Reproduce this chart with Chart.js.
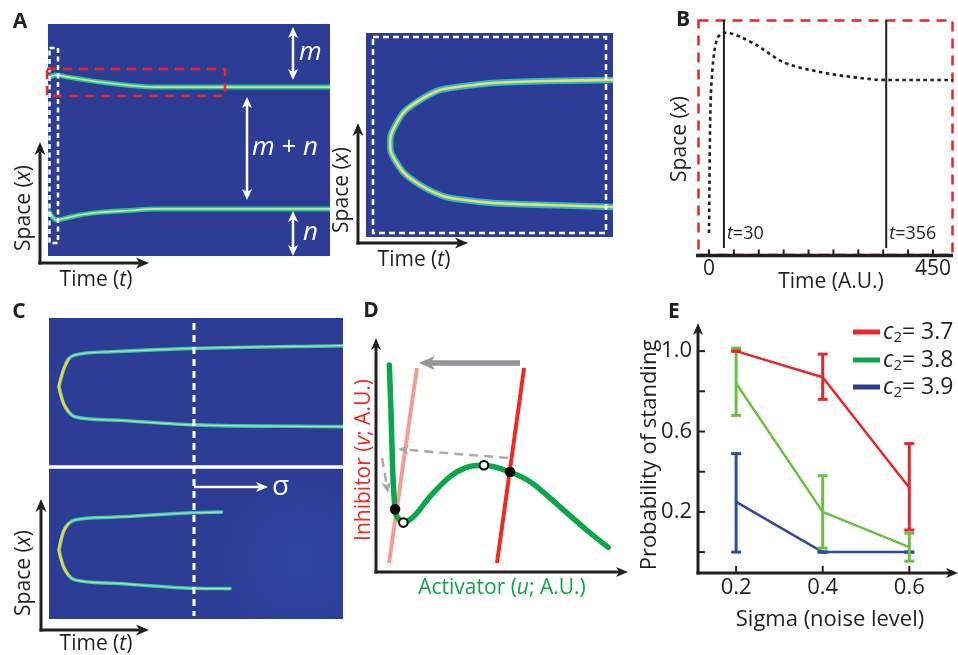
<!DOCTYPE html>
<html><head><meta charset="utf-8">
<script src="https://cdn.jsdelivr.net/npm/chart.js@4.4.1/dist/chart.umd.min.js"></script>
<style>
html,body{margin:0;padding:0;background:#fff;}
#wrap{position:relative;width:958px;height:655px;overflow:hidden;background:#fff;}
#wrap canvas{position:absolute;left:0;top:0;}
</style></head><body><div id="wrap"></div>
<script>
// ================= DATA =================
// Panel A (left): two stationary bands, time 0-100 (A.U.), space 0-100
const aTime   = [0.4, 2.8, 6.7, 11.3, 18.4, 29.1, 38, 100];
const aTop    = [77.2, 78.0, 77.2, 76.3, 75.0, 73.5, 72.8, 72.8];
const aBottom = [19.0, 15.6, 16.4, 17.7, 18.8, 19.6, 20.3, 20.3];
// Panel A (right): zoom on the splitting front
const a2Time  = [10.1, 15.0, 21.9, 30.0, 36.8, 51.4, 73.3, 100];
const a2Upper = [50.0, 60.8, 67.2, 72.1, 73.5, 75.5, 76.5, 77.0];
const a2Lower = [41.7, 31.9, 25.5, 20.6, 18.6, 16.7, 15.7, 14.7];
// Panel B: front position over time
const bTime  = [0, 2, 3.4, 5.4, 8.6, 15.5, 22, 32, 88, 149, 223, 289, 356, 490];
const bSpace = [9.4, 51.9, 66.0, 74.5, 83.0, 91.5, 93.6, 94.6, 90.2, 82.1, 77.9, 75.7, 74.5, 74.5];
const bMarks = [30, 356];
const bMarkLabels = ['30', '356'];
const bTicks = [0, 50, 100, 150, 200, 250, 300, 350, 400, 450];
const bTickLabels = ['0', '', '', '', '', '', '', '', '', '450'];
// Panel C: without noise (top) and with noise (bottom)
const cTime      = [3.4, 4.9, 6.6, 8.8, 21.3, 49.3, 100];
const cTopUpper  = [77.2, 82.7, 86.3, 87.7, 88.8, 89.9, 90.8];
const cTopLower  = [77.2, 71.7, 68.9, 67.2, 66.1, 64.5, 63.9];
const cBotUpperT = [3.4, 4.9, 6.6, 8.8, 21.3, 49.3, 58.7];
const cBotUpper  = [22.9, 29.0, 31.6, 32.9, 33.8, 35.3, 35.5];
const cBotLowerT = [3.4, 4.9, 6.6, 8.8, 21.3, 49.3, 61.6];
const cBotLower  = [22.9, 17.4, 14.6, 13.0, 11.9, 10.2, 10.1];
// Panel D: phase plane
const dU = [5.3, 5.9, 6.3, 6.7, 7.2, 7.6, 8.9, 10.9, 14.9, 21.5, 29.5, 36.1, 43.0, 53.4, 61.4, 73.3, 83.9, 92.5];
const dV = [89.2, 71.2, 56.9, 42.5, 32.5, 27.0, 23.1, 21.3, 23.8, 32.5, 41.1, 45.1, 46.0, 43.1, 38.9, 28.1, 18.1, 10.6];
const dPinkU = [5.2, 16.3],  dPinkV = [3.9, 87.9];
const dRedU  = [48.2, 59.0], dRedV  = [3.9, 87.9];
const dStableU = [7.6, 53.4],  dStableV = [27.0, 43.1];
const dUnstableU = [10.9, 43.0], dUnstableV = [21.3, 46.0];
const dJumpU = [57.4, 17.1],  dJumpV = [90.1, 90.1];
const dDash1U = [52.6, 8.8],  dDash1V = [49.1, 53.0];
const dDash2U = [2.4, 4.8],   dDash2V = [49.1, 34.1];
// Panel E: probability of standing vs noise
const sigma = [0.2, 0.4, 0.6];
const eSeriesNames = ['3.7', '3.8', '3.9'];
const redVal   = [1.0, 0.87, 0.32],   redLo   = [1.0, 0.76, 0.11],   redHi   = [1.0, 0.985, 0.54];
const greenVal = [0.84, 0.20, 0.025], greenLo = [0.68, 0.02, -0.045], greenHi = [1.015, 0.38, 0.094];
const blueVal  = [0.25, 0.0, 0.0],    blueLo  = [0.0, 0.0, 0.0],     blueHi  = [0.49, 0.0, 0.0];
const eYTicks = [0, 0.2, 0.4, 0.6, 0.8, 1.0];
const eYLabels = ['', '0.2', '', '0.6', '', '1.0'];
const eXTicks = [0.2, 0.4, 0.6];
const eXLabels = ['0.2', '0.4', '0.6'];

// ================= HELPERS =================
const W = 958, H = 655;
const FONT = '"Open Sans","Liberation Sans",Arial,sans-serif';
const INK = '#231F20', HEAT = '#2D3C95', RED = '#E8262A', WHITE = '#FFFFFF';
const fR = s => `${s}px ${FONT}`, fI = s => `italic ${s}px ${FONT}`, fB = s => `bold ${s}px ${FONT}`;
const pts = (xs, ys) => xs.map((x, i) => ({x, y: ys[i]}));

function rich(ctx, parts, x, y, o = {}) {
  ctx.save();
  ctx.translate(x, y);
  if (o.rot) ctx.rotate(o.rot);
  ctx.fillStyle = o.color || INK;
  ctx.textBaseline = 'middle';
  let total = 0;
  parts.forEach(p => { ctx.font = p[1]; total += ctx.measureText(p[0]).width; });
  let cx = o.align === 'left' ? 0 : o.align === 'right' ? -total : -total / 2;
  parts.forEach(p => { ctx.font = p[1]; ctx.fillText(p[0], cx, p[2] || 0); cx += ctx.measureText(p[0]).width; });
  ctx.restore();
}
function head(ctx, x, y, ang, L, Wd, color) {
  ctx.save(); ctx.translate(x, y); ctx.rotate(ang); ctx.fillStyle = color;
  ctx.beginPath(); ctx.moveTo(0, 0); ctx.lineTo(-L, -Wd / 2); ctx.lineTo(-L * 0.72, 0); ctx.lineTo(-L, Wd / 2);
  ctx.closePath(); ctx.fill(); ctx.restore();
}
function arrow(ctx, x1, y1, x2, y2, o) {
  const ang = Math.atan2(y2 - y1, x2 - x1), L = o.L || 12, Wd = o.W || 10;
  ctx.save(); ctx.strokeStyle = o.color; ctx.lineWidth = o.lw || 2.5; ctx.setLineDash(o.dash || []);
  ctx.lineCap = 'butt';
  let sx = x1, sy = y1;
  if (o.both) { sx = x1 + Math.cos(ang) * L * 0.72; sy = y1 + Math.sin(ang) * L * 0.72; }
  ctx.beginPath(); ctx.moveTo(sx, sy);
  ctx.lineTo(x2 - Math.cos(ang) * L * 0.72, y2 - Math.sin(ang) * L * 0.72); ctx.stroke(); ctx.restore();
  head(ctx, x2, y2, ang, L, Wd, o.color);
  if (o.both) head(ctx, x1, y1, ang + Math.PI, L, Wd, o.color);
}
function letter(ctx, s, x, y) { ctx.save(); ctx.font = fB(21); ctx.fillStyle = INK; ctx.textAlign = 'center'; ctx.textBaseline = 'middle'; ctx.fillText(s, x, y); ctx.restore(); }
const SPACE = s => [['Space (', fR(s)], ['x', fI(s)], [')', fR(s)]];
const TIME = s => [['Time (', fR(s)], ['t', fI(s)], [')', fR(s)]];

function mk(area, xr, yr, datasets, plug) {
  const c = document.createElement('canvas');
  c.width = W; c.height = H;
  document.getElementById('wrap').appendChild(c);
  return new Chart(c, {
    type: 'line', data: {datasets},
    options: {
      responsive: false, animation: false, devicePixelRatio: 1, events: [],
      layout: {padding: {left: area[0], top: area[1], right: W - area[2], bottom: H - area[3]}},
      scales: {x: {type: 'linear', display: false, min: xr[0], max: xr[1]},
               y: {type: 'linear', display: false, min: yr[0], max: yr[1]}},
      plugins: {legend: {display: false}, tooltip: {enabled: false}},
      elements: {point: {radius: 0}, line: {borderCapStyle: 'round', borderJoinStyle: 'round'}}
    },
    plugins: [plug]
  });
}
function ln(data, color, w, extra) {
  return Object.assign({data, borderColor: color, borderWidth: w, pointRadius: 0, fill: false,
    tension: 0.4, cubicInterpolationMode: 'monotone'}, extra || {});
}
const straight = {tension: 0, cubicInterpolationMode: 'default', borderCapStyle: 'butt'};
const smooth = {tension: 0.22, cubicInterpolationMode: 'default'};

// ================= PANEL A (left) =================
mk([48, 24, 330, 256], [0, 100], [0, 100], [
  ln(pts(aTime, aTop), '#CFEA6E', 1.6), ln(pts(aTime, aBottom), '#CFEA6E', 1.6),
  ln(pts(aTime, aTop), '#27BDB3', 5), ln(pts(aTime, aBottom), '#27BDB3', 5)
], {
  id: 'pA',
  beforeDatasetsDraw(c) { const a = c.chartArea, x = c.ctx; x.save(); x.fillStyle = HEAT; x.fillRect(a.left, a.top, a.right - a.left, a.bottom - a.top); x.restore(); },
  afterDatasetsDraw(c) {
    const ctx = c.ctx;
    ctx.save();
    ctx.lineWidth = 2.5; ctx.strokeStyle = WHITE; ctx.setLineDash([5, 3.5]); ctx.strokeRect(49.5, 48, 8.5, 195);
    ctx.strokeStyle = RED; ctx.setLineDash([9, 7]); ctx.strokeRect(47, 69, 178, 27);
    ctx.restore();
    const wa = {color: WHITE, lw: 2.5, both: true, L: 11, W: 10};
    arrow(ctx, 293, 27, 293, 80, wa);
    arrow(ctx, 247, 97, 247, 200, wa);
    arrow(ctx, 293, 211, 293, 256, wa);
    rich(ctx, [['m', fI(26)]], 299, 53, {align: 'left', color: WHITE});
    rich(ctx, [['m', fI(26)], [' + ', fR(26)], ['n', fI(26)]], 252, 148, {align: 'left', color: WHITE});
    rich(ctx, [['n', fI(26)]], 303, 233, {align: 'left', color: WHITE});
    arrow(ctx, 40, 264.5, 40, 142, {color: INK, lw: 3, L: 13, W: 11});
    arrow(ctx, 38.5, 263, 149, 263, {color: INK, lw: 3, L: 13, W: 11});
    rich(ctx, SPACE(21), 24, 208, {rot: -Math.PI / 2});
    rich(ctx, TIME(21), 96, 280, {});
    letter(ctx, 'A', 20, 22);
  }
});

// ================= PANEL A (right) =================
const a2Path = [...pts(a2Time, a2Lower).reverse(), ...pts(a2Time, a2Upper)];
const a2Outer = [...pts(a2Time.slice(0, 3), a2Lower.slice(0, 3)).reverse(), ...pts(a2Time.slice(0, 3), a2Upper.slice(0, 3))];
mk([366, 33, 613, 237], [0, 100], [0, 100], [
  ln(a2Path, '#EFE04C', 2.6, smooth),
  ln(a2Outer, '#F08A2C', 2.2, smooth),
  ln(a2Path, '#2BB6DF', 6.5, smooth)
], {
  id: 'pA2',
  beforeDatasetsDraw(c) { const a = c.chartArea, x = c.ctx; x.save(); x.fillStyle = HEAT; x.fillRect(a.left, a.top, a.right - a.left, a.bottom - a.top); x.restore(); },
  afterDatasetsDraw(c) {
    const ctx = c.ctx;
    ctx.save(); ctx.lineWidth = 2.5; ctx.strokeStyle = WHITE; ctx.setLineDash([6, 4]); ctx.strokeRect(373, 37, 233, 196); ctx.restore();
    arrow(ctx, 358, 244.5, 358, 123, {color: INK, lw: 3, L: 13, W: 11});
    arrow(ctx, 356.5, 243, 468, 243, {color: INK, lw: 3, L: 13, W: 11});
    rich(ctx, SPACE(21), 342, 190, {rot: -Math.PI / 2});
    rich(ctx, TIME(21), 414, 260, {});
  }
});

// ================= PANEL B =================
mk([698, 20, 953, 255], [-22.1, 490.2], [0, 100], [
  ln(pts(bTime, bSpace), '#231F20', 2.6, {borderDash: [3.5, 3.5], borderCapStyle: 'butt'}),
  ...bMarks.map(t => ln([{x: t, y: 3}, {x: t, y: 100}], INK, 2, straight))
], {
  id: 'pB',
  beforeDatasetsDraw(c) {
    const ctx = c.ctx; ctx.save(); ctx.lineWidth = 2.5; ctx.strokeStyle = RED; ctx.setLineDash([10, 7]);
    ctx.strokeRect(698.5, 20.5, 254, 234.5); ctx.restore();
  },
  afterDatasetsDraw(c) {
    const ctx = c.ctx, X = v => c.scales.x.getPixelForValue(v);
    ctx.save(); ctx.strokeStyle = INK; ctx.lineWidth = 3.5;
    ctx.beginPath(); ctx.moveTo(696, 255.5); ctx.lineTo(953, 255.5); ctx.stroke();
    ctx.lineWidth = 2;
    bTicks.forEach(t => { ctx.beginPath(); ctx.moveTo(X(t), 255); ctx.lineTo(X(t), 249.5); ctx.stroke(); });
    ctx.restore();
    bTicks.forEach((t, i) => { if (bTickLabels[i]) rich(ctx, [[bTickLabels[i], fR(21)]], X(t), 269, {}); });
    rich(ctx, [['Time (A.U.)', fR(21)]], 831, 282, {});
    rich(ctx, SPACE(21), 680, 139, {rot: -Math.PI / 2});
    bMarks.forEach((t, i) => rich(ctx, [['t', fI(18)], ['=' + bMarkLabels[i], fR(18)]], X(t) + 3, 234, {align: 'left'}));
    letter(ctx, 'B', 683, 20);
  }
});

// ================= PANEL C =================
const apexSlice = (t, u, l) => [...pts(t.slice(0, 3), l.slice(0, 3)).reverse(), ...pts(t.slice(1, 3), u.slice(1, 3))];
mk([49, 318, 343, 619], [0, 100], [0, 100], [
  ln(apexSlice(cTime, cTopUpper, cTopLower), '#E9D240', 2.6, {tension: 0.3, cubicInterpolationMode: 'default'}),
  ln(apexSlice(cBotUpperT, cBotUpper, cBotLower), '#E9D240', 2.6, {tension: 0.3, cubicInterpolationMode: 'default'}),
  ln(pts(cTime, cTopUpper), '#B9E57A', 1.2), ln(pts(cTime, cTopLower), '#B9E57A', 1.2),
  ln(pts(cBotUpperT, cBotUpper), '#B9E57A', 1.2), ln(pts(cBotLowerT, cBotLower), '#B9E57A', 1.2),
  ln(pts(cTime, cTopUpper), '#36C3C6', 3.6), ln(pts(cTime, cTopLower), '#36C3C6', 3.6),
  ln(pts(cBotUpperT, cBotUpper), '#36C3C6', 3.6), ln(pts(cBotLowerT, cBotLower), '#36C3C6', 3.6)
], {
  id: 'pC',
  beforeDatasetsDraw(c) {
    const a = c.chartArea, x = c.ctx; x.save(); x.fillStyle = HEAT; x.fillRect(a.left, a.top, a.right - a.left, a.bottom - a.top);
    const g = x.createRadialGradient(300, 560, 5, 300, 560, 90);
    g.addColorStop(0, 'rgba(40,80,175,0.45)'); g.addColorStop(1, 'rgba(40,80,175,0)');
    x.fillStyle = g; x.fillRect(200, 470, 143, 149); x.restore();
  },
  afterDatasetsDraw(c) {
    const ctx = c.ctx;
    ctx.save(); ctx.strokeStyle = WHITE; ctx.lineWidth = 3.5;
    ctx.beginPath(); ctx.moveTo(49, 467); ctx.lineTo(343, 467); ctx.stroke();
    ctx.lineWidth = 3; ctx.setLineDash([7, 5]);
    ctx.beginPath(); ctx.moveTo(194, 323); ctx.lineTo(194, 616); ctx.stroke(); ctx.restore();
    arrow(ctx, 194, 487, 268, 487, {color: WHITE, lw: 2.5, L: 12, W: 10});
    rich(ctx, [['σ', fR(28)]], 272, 487, {align: 'left', color: WHITE});
    arrow(ctx, 41, 631.5, 41, 499, {color: INK, lw: 3, L: 13, W: 11});
    arrow(ctx, 39.5, 630, 149, 630, {color: INK, lw: 3, L: 13, W: 11});
    rich(ctx, SPACE(21), 24, 573, {rot: -Math.PI / 2});
    rich(ctx, TIME(21), 96, 644, {});
    letter(ctx, 'C', 19, 312);
  }
});

// ================= PANEL D =================
const dDot = (u, v, fillC) => ({data: pts(u, v), showLine: false, pointRadius: 4.3, pointBorderWidth: 2,
  pointBackgroundColor: fillC, pointBorderColor: '#000', borderColor: '#000'});
mk([376, 340, 627, 572], [0, 100], [0, 100], [
  dDot(dStableU, dStableV, '#000'),
  dDot(dUnstableU, dUnstableV, '#fff'),
  ln(pts(dRedU, dRedV), '#EE2A24', 4, straight),
  ln(pts(dU, dV), '#0BA54B', 5.5),
  ln(pts(dPinkU, dPinkV), '#F59C95', 4, straight)
], {
  id: 'pD',
  afterDatasetsDraw(c) {
    const ctx = c.ctx, X = v => c.scales.x.getPixelForValue(v), Y = v => c.scales.y.getPixelForValue(v);
    arrow(ctx, X(dJumpU[0]), Y(dJumpV[0]), X(dJumpU[1]), Y(dJumpV[1]), {color: '#939598', lw: 5.5, L: 16, W: 14});
    arrow(ctx, X(dDash1U[0]), Y(dDash1V[0]), X(dDash1U[1]), Y(dDash1V[1]), {color: '#A7A9AC', lw: 2.5, L: 11, W: 10, dash: [9, 6]});
    arrow(ctx, X(dDash2U[0]), Y(dDash2V[0]), X(dDash2U[1]), Y(dDash2V[1]), {color: '#A7A9AC', lw: 2.5, L: 11, W: 10, dash: [9, 6]});
    arrow(ctx, 376, 573.5, 376, 338, {color: INK, lw: 3, L: 12, W: 10});
    arrow(ctx, 374.5, 572, 628, 572, {color: INK, lw: 3, L: 12, W: 10});
    rich(ctx, [['Inhibitor (', fR(21)], ['v', fI(21)], ['; A.U.)', fR(21)]], 364, 460, {rot: -Math.PI / 2, color: '#EE2A24'});
    rich(ctx, [['Activator (', fR(21)], ['u', fI(21)], ['; A.U.)', fR(21)]], 502, 588, {color: '#0BA54B'});
    letter(ctx, 'D', 371, 311);
  }
});

// ================= PANEL E =================
const eCols = ['#E8262A', '#6DBE45', '#2E4C9F'];
const eLegendCols = ['#E8262A', '#0BA54B', '#2E3A8C'];
const eSets = [[redVal, redLo, redHi], [greenVal, greenLo, greenHi], [blueVal, blueLo, blueHi]];
const eDatasets = [];
eSets.forEach((s, k) => {
  const bars = [];
  sigma.forEach((x, i) => { bars.push({x, y: s[1][i]}, {x, y: s[2][i]}, {x, y: null}); });
  const caps = [];
  sigma.forEach((x, i) => { caps.push({x, y: s[1][i]}, {x, y: s[2][i]}); });
  eDatasets.push({data: caps, showLine: false, pointStyle: 'line', pointRadius: 5, pointBorderWidth: 3,
    pointBorderColor: eCols[k], borderColor: eCols[k]});
  eDatasets.push(ln(bars, eCols[k], 3, Object.assign({}, straight, {spanGaps: false})));
  eDatasets.push(ln(pts(sigma, s[0]), eCols[k], 2.5, {tension: 0, cubicInterpolationMode: 'default'}));
});
mk([698, 325, 957, 573], [0.112, 0.694], [-0.104, 1.13], eDatasets, {
  id: 'pE',
  afterDatasetsDraw(c) {
    const ctx = c.ctx, X = v => c.scales.x.getPixelForValue(v), Y = v => c.scales.y.getPixelForValue(v);
    arrow(ctx, 698, 574.5, 698, 323, {color: INK, lw: 3, L: 12, W: 10});
    arrow(ctx, 696.5, 573, 958, 573, {color: INK, lw: 3, L: 12, W: 10});
    ctx.save(); ctx.strokeStyle = INK; ctx.lineWidth = 2;
    eYTicks.forEach(t => { ctx.beginPath(); ctx.moveTo(698, Y(t)); ctx.lineTo(705, Y(t)); ctx.stroke(); });
    eXTicks.forEach(t => { ctx.beginPath(); ctx.moveTo(X(t), 573); ctx.lineTo(X(t), 566); ctx.stroke(); });
    ctx.restore();
    eYTicks.forEach((t, i) => { if (eYLabels[i]) rich(ctx, [[eYLabels[i], fR(22)]], 692, Y(t), {align: 'right'}); });
    eXTicks.forEach((t, i) => rich(ctx, [[eXLabels[i], fR(22)]], X(t), 588, {}));
    rich(ctx, [['Sigma (noise level)', fR(22)]], 830, 620, {});
    rich(ctx, [['Probability of standing', fR(22)]], 650, 455, {rot: -Math.PI / 2});
    const ly = [332, 360, 387];
    eSeriesNames.forEach((n, k) => {
      ctx.save(); ctx.strokeStyle = eLegendCols[k]; ctx.lineWidth = 5;
      ctx.beginPath(); ctx.moveTo(853, ly[k]); ctx.lineTo(880, ly[k]); ctx.stroke(); ctx.restore();
      rich(ctx, [['c', fI(23)], ['2', fR(15), 6], ['= ' + n, fR(23)]], 883, ly[k], {align: 'left'});
    });
    letter(ctx, 'E', 674, 312);
  }
});
</script></body></html>
